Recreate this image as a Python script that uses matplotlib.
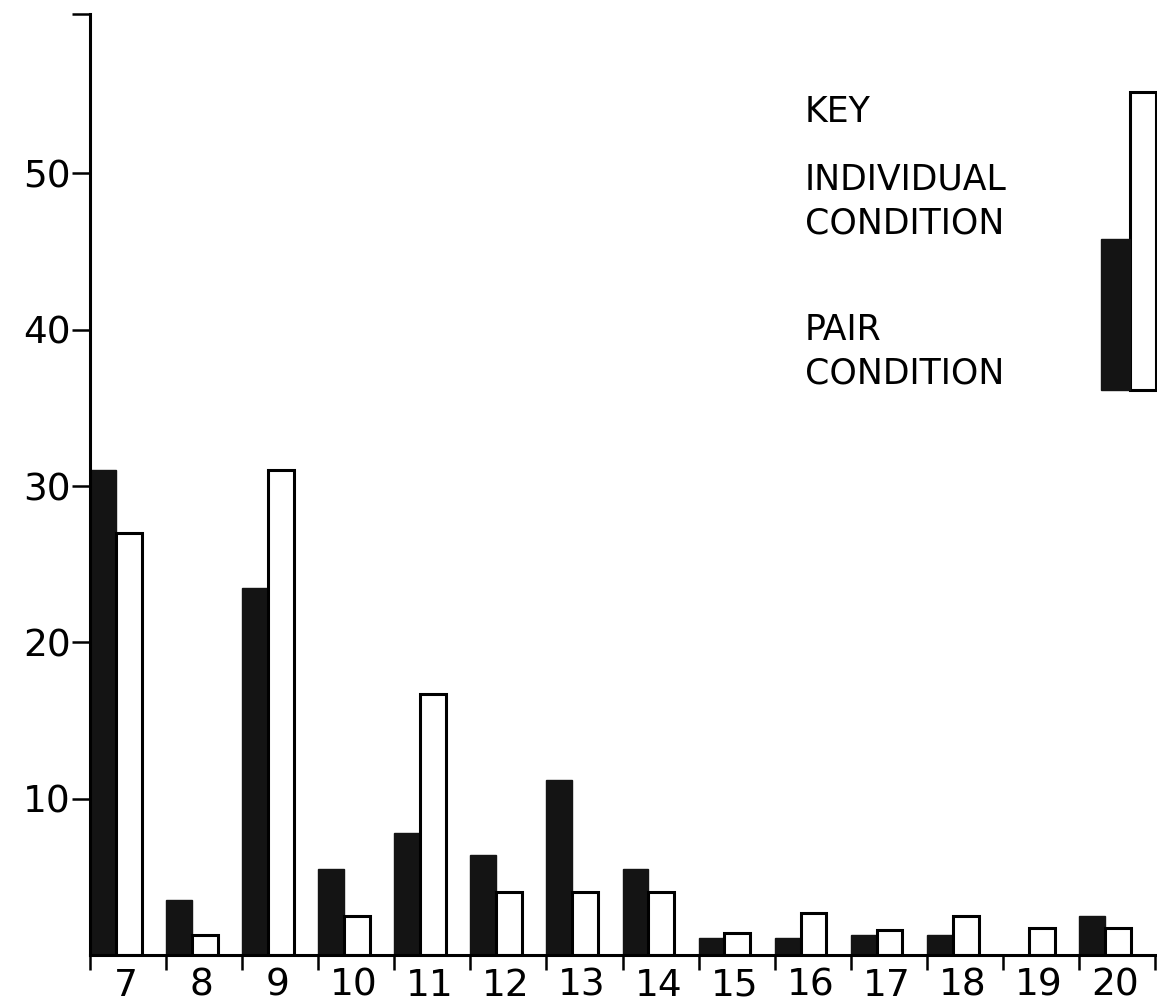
import numpy as np
import matplotlib.pyplot as plt
from matplotlib.patches import Rectangle

# scores along the bottom and the two conditions
scores = [7, 8, 9, 10, 11, 12, 13, 14, 15, 16, 17, 18, 19, 20]
individual = [31, 3.5, 23.5, 5.5, 7.8, 6.4, 11.2, 5.5, 1.1, 1.1, 1.3, 1.3, 0, 2.5]
pair = [27, 1.3, 31, 2.5, 16.7, 4, 4, 4, 1.4, 2.7, 1.6, 2.5, 1.7, 1.7]
y_ticks = [10, 20, 30, 40, 50]

W, H = 1157, 1008
fig = plt.figure(figsize=(W / 100, H / 100), dpi=100)
ax = fig.add_axes([90 / W, 53 / H, (1155 - 90) / W, (955 - 14) / H])

x = np.arange(len(scores))
bw = 0.34
ax.bar(x, individual, width=bw, align='edge', color='#141414', edgecolor='#141414', linewidth=1)
ax.bar(x + bw, pair, width=bw, align='edge', facecolor='white', edgecolor='black', linewidth=2.2)

top = 60.2
ax.set_xlim(0, len(scores))
ax.set_ylim(0, top)

for s in ['top', 'right']:
    ax.spines[s].set_visible(False)
for s in ['left', 'bottom']:
    ax.spines[s].set_linewidth(2.2)

ax.set_yticks(y_ticks + [top])
ax.set_yticklabels([str(v) for v in y_ticks] + [''])
ax.tick_params(axis='y', length=13, width=1.8, pad=1, labelsize=27)

ax.set_xticks(np.arange(len(scores) + 1))
ax.set_xticklabels([])
ax.tick_params(axis='x', which='major', length=11, width=1.8)
ax.set_xticks(x + 0.47, minor=True)
ax.set_xticklabels([str(s) for s in scores], minor=True)
ax.tick_params(axis='x', which='minor', length=0, pad=9, labelsize=27)

# key in the top right corner
fs = 25
fig.text(805 / W, 1 - 112 / H, 'KEY', fontsize=fs, va='center', ha='left')
fig.text(805 / W, 1 - 180 / H, 'INDIVIDUAL', fontsize=fs, va='center', ha='left')
fig.text(805 / W, 1 - 223 / H, 'CONDITION', fontsize=fs, va='center', ha='left')
fig.text(805 / W, 1 - 330 / H, 'PAIR', fontsize=fs, va='center', ha='left')
fig.text(805 / W, 1 - 373 / H, 'CONDITION', fontsize=fs, va='center', ha='left')

fig.patches.append(Rectangle((1130 / W, 1 - 390 / H), 26 / W, (390 - 92) / H,
                             transform=fig.transFigure, facecolor='white',
                             edgecolor='black', linewidth=2.2))
fig.patches.append(Rectangle((1101 / W, 1 - 390 / H), 29 / W, (390 - 239) / H,
                             transform=fig.transFigure, facecolor='#141414',
                             edgecolor='#141414', linewidth=1))

plt.savefig('out.png', dpi=100)
